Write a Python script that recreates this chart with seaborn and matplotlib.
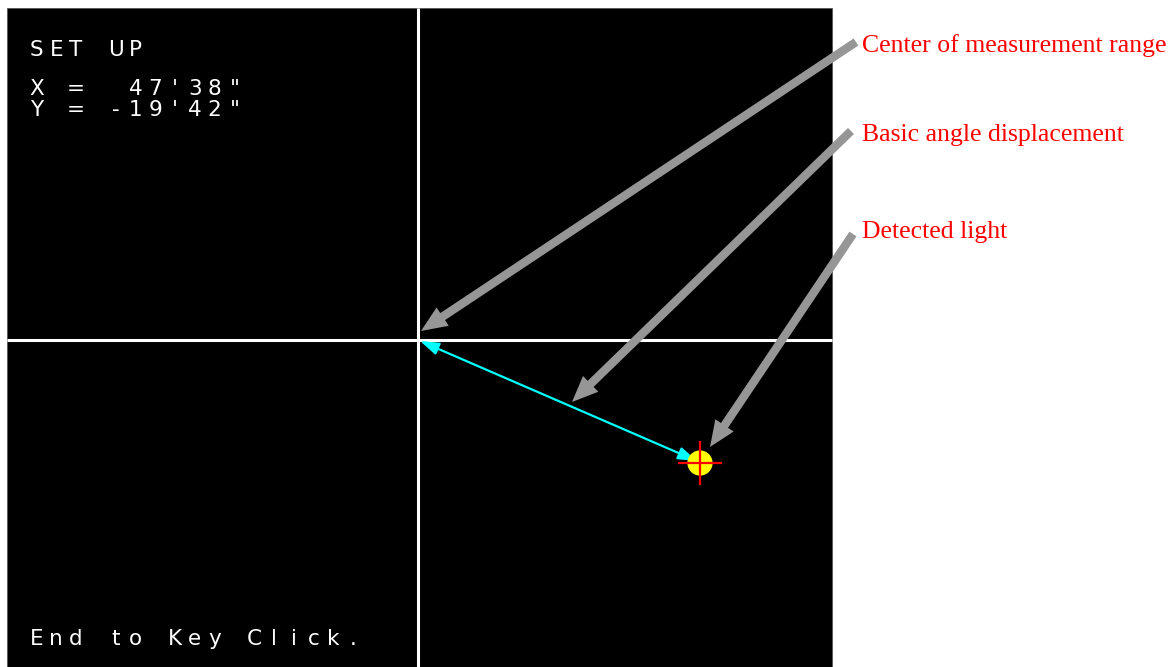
import numpy as np
import matplotlib
matplotlib.use("Agg")
import matplotlib.pyplot as plt
import seaborn as sns
from matplotlib.patches import Rectangle

# screen panel (pixel coords, y grows downward)
panel_x = [7, 832]
panel_y = [8, 667]
cross_x = 418
cross_y = 340

# screen text rows: (text, left x, baseline y)
screen_lines = ["SET UP", "X =  47'38\"", "Y = -19'42\"", "End to Key Click."]
screen_left = [30, 30, 30, 30]
screen_base = [56, 95, 116, 645]
char_pitch = 19.8

# detected spot
spot_x = [700]
spot_y = [463]

# displacement arrow (center -> spot)
disp_from = (697, 461)
disp_to = (420, 341)

# callouts
callout_labels = ["Center of measurement range", "Basic angle displacement", "Detected light"]
label_x = 862
label_base = [52, 141, 238]
tail_x = [856, 851, 853]
tail_y = [42, 131, 234]
tip_x = [421, 572, 710]
tip_y = [331, 402, 447]

sns.set_style("white")

fig = plt.figure(figsize=(11.75, 6.67), dpi=100)
ax = fig.add_axes([0, 0, 1, 1])
ax.set_xlim(0, 1175)
ax.set_ylim(667, 0)
ax.axis("off")

ax.add_patch(Rectangle((panel_x[0], panel_y[0]), panel_x[1] - panel_x[0], panel_y[1] - panel_y[0],
                       facecolor="black", edgecolor="#555555", lw=0.6, zorder=1))

# crosshair
ax.plot([cross_x, cross_x], panel_y, color="white", lw=2.2, zorder=2, solid_capstyle="butt")
ax.plot(panel_x, [cross_y, cross_y], color="white", lw=2.2, zorder=2, solid_capstyle="butt")

# screen text, fixed pitch like the display
for txt, x0, yb in zip(screen_lines, screen_left, screen_base):
    for i, ch in enumerate(txt):
        if ch == " ":
            continue
        ax.text(x0 + i * char_pitch + 6.5, yb, ch, color="white", fontsize=15.5,
                family="DejaVu Sans", ha="center", va="baseline", zorder=3)

# displacement arrow
ax.annotate("", xy=disp_to, xytext=disp_from,
            arrowprops=dict(arrowstyle="<|-|>,head_length=0.75,head_width=0.25",
                            mutation_scale=15, lw=1.6, color="#00FFFF",
                            shrinkA=0, shrinkB=0), zorder=4)

# detected spot and red cross
sns.scatterplot(x=spot_x, y=spot_y, ax=ax, s=330, color="#FFFF00", edgecolor="none", zorder=5)
sns.scatterplot(x=spot_x, y=spot_y, ax=ax, s=1000, marker="+", color="#FF0000",
                linewidth=1.6, zorder=6)

# gray callout arrows
for tx, ty, hx, hy in zip(tail_x, tail_y, tip_x, tip_y):
    ax.arrow(tx, ty, hx - tx, hy - ty, width=8.5, head_width=22, head_length=26,
             length_includes_head=True, fc="#969696", ec="none", zorder=7)

for lab, yb in zip(callout_labels, label_base):
    ax.text(label_x, yb, lab, color="#FF0000", fontsize=18.5, family="Liberation Serif",
            ha="left", va="baseline")

fig.savefig("out.png", dpi=100)
